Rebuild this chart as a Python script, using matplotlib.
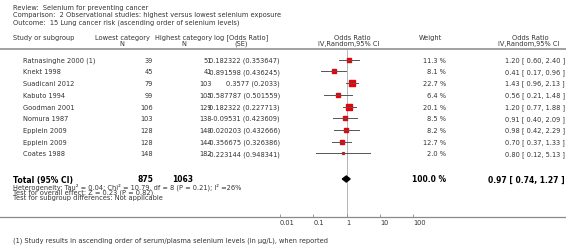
import numpy as np
import matplotlib.pyplot as plt

# ── DATA ─────────────────────────────────────────────────
studies = ["Ratnasinghe 2000 (1)", "Knekt 1998", "Suadicani 2012", "Kabuto 1994",
           "Goodman 2001", "Nomura 1987", "Epplein 2009", "Epplein 2009", "Coates 1988"]
n_low = [39, 45, 79, 99, 106, 103, 128, 128, 148]
n_high = [51, 41, 103, 105, 129, 138, 149, 144, 182]
log_or = ["0.182322", "-0.891598", "0.3577", "-0.587787", "0.182322",
          "-0.09531", "-0.020203", "-0.356675", "-0.223144"]
se = ["0.353647", "0.436245", "0.2033", "0.501559", "0.227713",
      "0.423609", "0.432666", "0.326386", "0.948341"]
weight = [11.3, 8.1, 22.7, 6.4, 20.1, 8.5, 8.2, 12.7, 2.0]
odds = [1.20, 0.41, 1.43, 0.56, 1.20, 0.91, 0.98, 0.70, 0.80]
ci_lo = [0.60, 0.17, 0.96, 0.21, 0.77, 0.40, 0.42, 0.37, 0.12]
ci_hi = [2.40, 0.96, 2.13, 1.48, 1.88, 2.09, 2.29, 1.33, 5.13]

total_low, total_high = 875, 1063
total_or, total_lo, total_hi = 0.97, 0.74, 1.27
axis_ticks = [0.01, 0.1, 1, 10, 100]

# ── LAYOUT (pixels) ──────────────────────────────────────
W, H = 566, 253
TXT = "#333333"
FS = 4.75
row_y = 60.7 + 11.7 * np.arange(len(studies))
total_y = 180
axis_y = 218
px_one, px_decade = 346.7, 33.33

fig = plt.figure(figsize=(W / 100, H / 100), dpi=100)
ax = fig.add_axes([0, 0, 1, 1])
ax.set_xlim(0, W)
ax.set_ylim(H, 0)
ax.axis("off")

def t(x, y, s, ha="left", **kw):
    kw.setdefault("fontsize", FS)
    kw.setdefault("color", TXT)
    ax.text(x, y, s, ha=ha, va="center", **kw)

# header block
t(13, 7.5, "Review:  Selenium for preventing cancer")
t(13, 15, "Comparison:  2 Observational studies: highest versus lowest selenium exposure")
t(13, 22.5, "Outcome:  15 Lung cancer risk (ascending order of selenium levels)")

t(13, 38, "Study or subgroup")
t(122, 38, "Lowest category", ha="center")
t(122, 44, "N", ha="center")
t(184, 38, "Highest category", ha="center")
t(184, 44, "N", ha="center")
t(241, 38, "log [Odds Ratio]", ha="center")
t(241, 44, "(SE)", ha="center")
t(352, 38, "Odds Ratio", ha="center")
t(349, 44, "IV,Random,95% CI", ha="center")
t(430, 38, "Weight", ha="center")
t(530, 38, "Odds Ratio", ha="center")
t(529, 44, "IV,Random,95% CI", ha="center")
ax.axhline(49.5, color="#9a9a9a", lw=1.3)

# study rows
for i, y in enumerate(row_y):
    t(23, y, studies[i])
    t(153, y, str(n_low[i]), ha="right")
    t(212, y, str(n_high[i]), ha="right")
    t(280, y, f"{log_or[i]} ({se[i]})", ha="right")
    t(446, y, f"{weight[i]:.1f} %", ha="right")
    t(565, y, f"{odds[i]:.2f} [ {ci_lo[i]:.2f}, {ci_hi[i]:.2f} ]", ha="right")

# totals
BF = 5.5
t(13, total_y, "Total (95% CI)", fontsize=BF, weight="bold", color="black")
t(153, total_y, str(total_low), ha="right", fontsize=BF, weight="bold", color="black")
t(193, total_y, str(total_high), ha="right", fontsize=BF, weight="bold", color="black")
t(446, total_y, "100.0 %", ha="right", fontsize=BF, weight="bold", color="black")
t(565, total_y, f"{total_or:.2f} [ {total_lo:.2f}, {total_hi:.2f} ]", ha="right",
  fontsize=BF, weight="bold", color="black")
t(13, 187.5, "Heterogeneity: Tau\u00b2 = 0.04; Chi\u00b2 = 10.79, df = 8 (P = 0.21); I\u00b2 =26%")
t(13, 193, "Test for overall effect: Z = 0.23 (P = 0.82)")
t(13, 198.5, "Test for subgroup differences: Not applicable")
t(13, 241, "(1) Study results in ascending order of serum/plasma selenium levels (in \u00b5g/L), when reported")

# ── FOREST PLOT (log scale, same pixel rows) ─────────────
fax = fig.add_axes([0, 0, 1, 1], facecolor="none")
fax.set_xscale("log")
fax.set_xlim(10 ** (-px_one / px_decade), 10 ** ((W - px_one) / px_decade))
fax.set_ylim(H, 0)
for side in ["top", "right", "left"]:
    fax.spines[side].set_visible(False)
fax.spines["bottom"].set_position(("data", axis_y))
fax.spines["bottom"].set_color("#8a8a8a")
fax.spines["bottom"].set_linewidth(0.9)
fax.set_yticks([])
fax.set_xticks(axis_ticks)
fax.set_xticklabels([f"{v:g}" for v in axis_ticks])
fax.xaxis.set_minor_locator(plt.NullLocator())
fax.tick_params(axis="x", direction="in", length=2, width=0.6, color="#8a8a8a",
                labelsize=FS, labelcolor=TXT, pad=1.5)
for lab in fax.get_xticklabels():
    lab.set_horizontalalignment("left")

fax.plot([1, 1], [49.5, axis_y], color="#aaaaaa", lw=0.6, zorder=1)

for i, y in enumerate(row_y):
    side_px = 1.26 * np.sqrt(weight[i])
    fax.plot(odds[i], y, marker="s", ms=side_px / 1.389, color="#e8000b",
             mec="#e8000b", zorder=2)
    fax.plot([ci_lo[i], ci_hi[i]], [y, y], color="#555555", lw=0.7, zorder=3)

fax.fill([total_lo, total_or, total_hi, total_or],
         [total_y, total_y - 3, total_y, total_y + 3], color="black", zorder=3)

fig.savefig("out.png", dpi=100)
